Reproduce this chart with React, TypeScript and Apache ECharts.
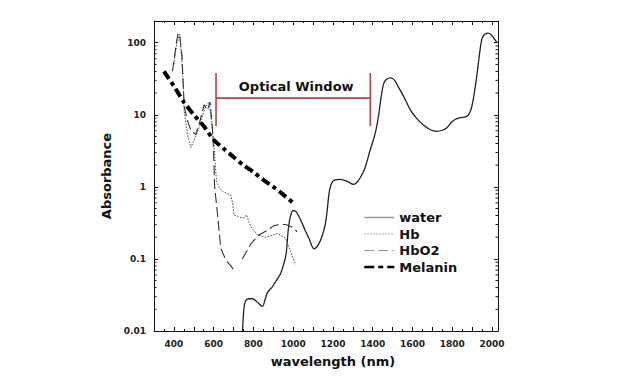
import React, { useEffect, useRef } from "react";
import * as echarts from "echarts";

const X_MIN = 300;
const X_MAX = 2030;
const Y_MIN = 0.01;
const Y_MAX = 200;

const waterNm = [745, 752, 760, 775, 795, 820, 845, 860, 870, 895, 915, 937, 955, 965, 975, 985, 1000, 1015, 1037, 1060, 1080, 1105, 1125, 1146, 1162, 1172, 1180, 1192, 1210, 1237, 1270, 1304, 1320, 1338, 1360, 1388, 1413, 1430, 1440, 1455, 1470, 1490, 1510, 1530, 1560, 1589, 1620, 1655, 1690, 1722, 1750, 1773, 1795, 1814, 1840, 1873, 1890, 1905, 1923, 1940, 1950, 1965, 1981, 2000, 2025];
const waterAbs = [0.01, 0.02, 0.026, 0.028, 0.028, 0.025, 0.022, 0.028, 0.034, 0.041, 0.05, 0.063, 0.09, 0.12, 0.25, 0.38, 0.47, 0.45, 0.35, 0.25, 0.19, 0.138, 0.155, 0.21, 0.31, 0.5, 0.8, 1.1, 1.25, 1.27, 1.2, 1.08, 1.15, 1.35, 1.8, 3.3, 5.6, 10, 16, 27, 31, 32.5, 30, 24, 17, 11.7, 9, 7.2, 6.2, 5.9, 6.1, 6.6, 7.8, 8.6, 9.1, 9.5, 11, 16, 34, 80, 115, 132, 136, 125, 100];

const hbNm = [400, 415, 430, 444, 452, 469, 485, 510, 530, 545, 560, 577, 590, 602, 614, 630, 650, 686, 695, 702, 730, 753, 765, 786, 820, 861, 878, 920, 940, 962, 987, 1012];
const hbAbs = [50, 100, 130, 40, 11, 5.3, 3.5, 5, 7, 10, 13, 15, 8, 3.6, 1.2, 0.95, 0.85, 0.77, 0.6, 0.41, 0.38, 0.37, 0.41, 0.28, 0.215, 0.2, 0.205, 0.225, 0.21, 0.194, 0.126, 0.083];

const hbo2Nm = [393, 405, 415, 422, 430, 440, 452, 470, 485, 510, 530, 552, 569, 582, 594, 599, 605, 620, 636, 661, 686, 702, 720, 744, 786, 828, 870, 903, 935, 962, 990, 1020];
const hbo2Abs: (number | string)[] = [40, 70, 110, 135, 120, 70, 13, 8, 6.2, 5.3, 8, 13.8, 11.7, 15, 6.2, 3.6, 1.0, 0.4, 0.14, 0.097, 0.08, 0.07, "-", 0.1, 0.16, 0.215, 0.25, 0.29, 0.3, 0.3, 0.28, 0.24];

const melaninNm = [350, 400, 450, 500, 550, 600, 650, 700, 750, 800, 850, 900, 950, 1000];
const melaninAbs = [40, 25, 15, 10, 7, 4.5, 3.4, 2.6, 2.0, 1.6, 1.25, 1.0, 0.78, 0.6];

const logMinorTicks = [0.02, 0.03, 0.04, 0.05, 0.06, 0.07, 0.08, 0.09, 0.2, 0.3, 0.4, 0.5, 0.6, 0.7, 0.8, 0.9, 2, 3, 4, 5, 6, 7, 8, 9, 20, 30, 40, 50, 60, 70, 80, 90];

const windowStart = 612;
const windowEnd = 1388;
const windowLevel = 17;
const windowLow = 7;
const windowHigh = 38;
const windowLabel = "Optical Window";
const windowLabelLevel = 25;

const FONT = "DejaVu Sans";

function zip(xs: number[], ys: (number | string)[]) {
  return xs.map((x, i) => [x, ys[i]]);
}

export default function App() {
  const ref = useRef<HTMLDivElement>(null);
  useEffect(() => {
    if (!ref.current) return;
    const chart = echarts.init(ref.current, undefined, { renderer: "svg" });
    const tickLabel = { fontFamily: FONT, fontWeight: "bold" as const, fontSize: 9, color: "#222" };
    const axisLineStyle = { show: true, lineStyle: { color: "#111", width: 1 } };
    const hidden = { color: "rgba(0,0,0,0)", borderWidth: 0, opacity: 0 };
    chart.setOption({
      animation: false,
      backgroundColor: "#fff",
      grid: { left: 154, right: 130, top: 21, bottom: 51, containLabel: false },
      legend: {
        orient: "vertical",
        left: 363,
        top: 211,
        padding: 0,
        itemWidth: 30,
        itemHeight: 10,
        itemGap: 3.5,
        selectedMode: false,
        textStyle: { fontFamily: FONT, fontWeight: "bold", fontSize: 13, color: "#111" },
        data: [
          { name: "water", itemStyle: hidden, lineStyle: { color: "#999", width: 1.5 } },
          { name: "Hb", itemStyle: hidden, lineStyle: { color: "#999", width: 1.2 } },
          { name: "HbO2", itemStyle: hidden, lineStyle: { color: "#999", width: 1.2 } },
          { name: "Melanin", itemStyle: hidden, lineStyle: { color: "#000", width: 2.5, type: [10, 4, 5, 4] } },
        ],
      },
      xAxis: [
        {
          type: "value",
          min: X_MIN,
          max: X_MAX,
          interval: 100,
          position: "bottom",
          name: "wavelength (nm)",
          nameLocation: "middle",
          nameGap: 24,
          nameTextStyle: { fontFamily: FONT, fontWeight: "bold", fontSize: 13, color: "#111", padding: [0, 0, 0, 14] },
          axisLine: axisLineStyle,
          axisTick: { show: true, inside: true, length: 4, lineStyle: { color: "#111" } },
          minorTick: { show: true, splitNumber: 2, length: 2, lineStyle: { color: "#111" } },
          splitLine: { show: false },
          axisLabel: {
            ...tickLabel,
            margin: 8,
            showMaxLabel: false,
            formatter: (v: number) => (v % 200 === 0 && v >= 400 ? String(v) : ""),
          },
        },
        {
          type: "value",
          min: X_MIN,
          max: X_MAX,
          interval: 100,
          position: "top",
          axisLine: axisLineStyle,
          axisTick: { show: true, inside: true, length: 4, lineStyle: { color: "#111" } },
          minorTick: { show: true, splitNumber: 2, length: 2, lineStyle: { color: "#111" } },
          splitLine: { show: false },
          axisLabel: { show: false },
        },
      ],
      yAxis: [
        {
          type: "log",
          logBase: 10,
          min: Y_MIN,
          max: Y_MAX,
          position: "left",
          name: "Absorbance",
          nameLocation: "middle",
          nameGap: 40,
          nameTextStyle: { fontFamily: FONT, fontWeight: "bold", fontSize: 13, color: "#111" },
          axisLine: axisLineStyle,
          axisTick: { show: true, inside: true, length: 4, lineStyle: { color: "#111" } },
          splitLine: { show: false },
          axisLabel: {
            ...tickLabel,
            margin: 8,
            showMaxLabel: false,
            formatter: (v: number) => {
              const l = Math.log10(v);
              if (Math.abs(l - Math.round(l)) > 1e-6) return "";
              return String(Number(v.toPrecision(3)));
            },
          },
        },
        {
          type: "log",
          logBase: 10,
          min: Y_MIN,
          max: Y_MAX,
          position: "right",
          axisLine: axisLineStyle,
          axisTick: { show: true, inside: true, length: 4, lineStyle: { color: "#111" } },
          splitLine: { show: false },
          axisLabel: { show: false },
        },
      ],
      series: [
        {
          name: "minorTicks",
          type: "custom",
          silent: true,
          xAxisIndex: 0,
          yAxisIndex: 0,
          data: logMinorTicks.map((v) => [X_MIN, v]),
          renderItem: (_params: any, api: any) => {
            const v = api.value(1);
            const p = api.coord([X_MIN, v]);
            const q = api.coord([X_MAX, v]);
            const style = { stroke: "#111", lineWidth: 1 };
            return {
              type: "group",
              children: [
                { type: "line", shape: { x1: p[0], y1: p[1], x2: p[0] + 2.5, y2: p[1] }, style },
                { type: "line", shape: { x1: q[0], y1: q[1], x2: q[0] - 2.5, y2: q[1] }, style },
              ],
            };
          },
        },
        {
          name: "window",
          type: "custom",
          silent: true,
          xAxisIndex: 0,
          yAxisIndex: 0,
          data: [[windowStart, windowEnd]],
          renderItem: (_params: any, api: any) => {
            const a = api.coord([windowStart, windowLevel]);
            const b = api.coord([windowEnd, windowLevel]);
            const aLow = api.coord([windowStart, windowLow]);
            const aHigh = api.coord([windowStart, windowHigh]);
            const bLow = api.coord([windowEnd, windowLow]);
            const bHigh = api.coord([windowEnd, windowHigh]);
            const t = api.coord([(windowStart + windowEnd) / 2 + 15, windowLabelLevel]);
            const style = { stroke: "#b0443e", lineWidth: 1.6 };
            return {
              type: "group",
              children: [
                { type: "line", shape: { x1: a[0], y1: a[1], x2: b[0], y2: b[1] }, style },
                { type: "line", shape: { x1: aLow[0], y1: aLow[1], x2: aHigh[0], y2: aHigh[1] }, style },
                { type: "line", shape: { x1: bLow[0], y1: bLow[1], x2: bHigh[0], y2: bHigh[1] }, style },
                {
                  type: "text",
                  x: t[0],
                  y: t[1],
                  style: {
                    text: windowLabel,
                    fill: "#111",
                    font: `bold 13px "${FONT}"`,
                    textAlign: "center",
                    textVerticalAlign: "middle",
                  },
                },
              ],
            };
          },
        },
        {
          name: "water",
          type: "line",
          data: zip(waterNm, waterAbs),
          symbol: "none",
          smooth: 0.3,
          lineStyle: { color: "#222", width: 1.3 },
          itemStyle: { color: "#999" },
        },
        {
          name: "Hb",
          type: "line",
          data: zip(hbNm, hbAbs),
          symbol: "none",
          lineStyle: { color: "#444", width: 1, type: [1.5, 1.5] },
          itemStyle: { color: "#999" },
        },
        {
          name: "HbO2",
          type: "line",
          data: zip(hbo2Nm, hbo2Abs),
          symbol: "none",
          connectNulls: false,
          lineStyle: { color: "#333", width: 1.1, type: [10, 4] },
          itemStyle: { color: "#999" },
        },
        {
          name: "Melanin",
          type: "line",
          data: zip(melaninNm, melaninAbs),
          symbol: "none",
          smooth: 0.3,
          lineStyle: { color: "#000", width: 4, type: [9, 4, 4, 4] },
          itemStyle: { color: "#000" },
        },
      ],
    });
    return () => chart.dispose();
  }, []);
  return (
    <div
      ref={ref}
      style={{ position: "fixed", left: 0, top: 0, width: 628, height: 382, background: "#fff" }}
    />
  );
}
